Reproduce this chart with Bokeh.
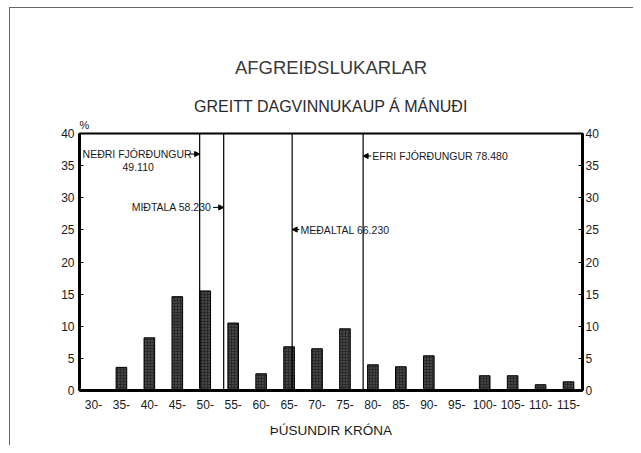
from bokeh.plotting import figure
from bokeh.models import (Range1d, LinearAxis, FixedTicker, Label, Arrow,
                          NormalHead, ColumnDataSource, Title)
from bokeh.embed import file_html
from bokeh.resources import INLINE

# ---- data ----
bin_lower = [30, 35, 40, 45, 50, 55, 60, 65, 70, 75, 80, 85, 90, 95, 100, 105, 110, 115]
tick_labels = [f"{b}-" for b in bin_lower]
percent = [0, 3.6, 8.2, 14.6, 15.5, 10.5, 2.6, 6.8, 6.5, 9.6, 4.0, 3.7, 5.4, 0, 2.3, 2.3, 0.9, 1.35]

stat_names = ["NEÐRI FJÓRÐUNGUR", "MIÐTALA", "MEÐALTAL", "EFRI FJÓRÐUNGUR"]
stat_values = ["49.110", "58.230", "66.230", "78.480"]
# where the marker lines stand on the drawn axis
stat_line_pos = [51.5, 55.8, 68.05, 80.75]

title_text = "AFGREIÐSLUKARLAR"
subtitle_text = "GREITT DAGVINNUKAUP Á MÁNUÐI"
xlabel_text = "ÞÚSUNDIR KRÓNA"
ylabel_text = "%"
y_ticks = [0, 5, 10, 15, 20, 25, 30, 35, 40]

FONT = "Liberation Sans"
INK = "#1a1a1a"

p = figure(width=633, height=445, output_backend="svg", toolbar_location=None,
           x_range=Range1d(30, 120), y_range=Range1d(0, 40), title=None,
           min_border_left=79, min_border_right=51, min_border_top=133,
           min_border_bottom=55)
p.styles = {"background": "linear-gradient(#666,#666) 9px 7px / 1px 100% no-repeat, "
                          "linear-gradient(#666,#666) 9px 7px / 100% 1px no-repeat, white"}
p.border_fill_alpha = 0
p.xgrid.visible = False
p.ygrid.visible = False
p.background_fill_color = "white"
p.outline_line_color = "black"
p.outline_line_width = 2

centers = [b + 2.5 for b in bin_lower]
src = ColumnDataSource(dict(x=centers, top=percent))
p.vbar(x="x", top="top", bottom=0, width=1.9, source=src,
       fill_color="#2a2a2a", line_color="black", line_width=1,
       hatch_pattern="dot", hatch_color="#707070", hatch_scale=3, hatch_weight=1)

# marker lines
p.segment(x0=stat_line_pos, x1=stat_line_pos, y0=[0] * 4, y1=[40] * 4,
          line_color="black", line_width=1.2)

# axes
xa = p.xaxis[0]
xa.ticker = FixedTicker(ticks=centers)
xa.major_label_overrides = {c: t for c, t in zip(centers, tick_labels)}
xa.major_tick_in = 0
xa.major_tick_out = 0
xa.minor_tick_line_color = None
xa.axis_line_width = 3
xa.axis_line_color = "black"
xa.major_label_standoff = 9
xa.major_label_text_font = FONT
xa.major_label_text_font_size = "12px"
xa.major_label_text_color = INK
xa.axis_label = xlabel_text
xa.axis_label_standoff = 11
xa.axis_label_text_font = FONT
xa.axis_label_text_font_size = "13.5px"
xa.axis_label_text_font_style = "normal"
xa.axis_label_text_color = INK

ya = p.yaxis[0]
ya.ticker = FixedTicker(ticks=y_ticks)
ra = LinearAxis(ticker=FixedTicker(ticks=y_ticks))
p.add_layout(ra, "right")
for ax in (ya, ra):
    ax.major_tick_in = 4
    ax.major_tick_out = 0
    ax.minor_tick_line_color = None
    ax.axis_line_width = 3
    ax.axis_line_color = "black"
    ax.major_label_text_font = FONT
    ax.major_label_text_font_size = "12px"
    ax.major_label_text_color = INK
ya.major_label_standoff = 5
ra.major_label_standoff = 3

# titles stacked above the frame (first = closest to frame)
p.add_layout(Title(text=ylabel_text, align="left", text_font=FONT, text_font_size="11px",
                   text_font_style="normal", text_color=INK, standoff=5), "above")
p.add_layout(Title(text=subtitle_text, align="center", text_font=FONT, text_font_size="16px",
                   text_font_style="normal", text_color="#2a2a2a", standoff=0), "above")
p.add_layout(Title(text=title_text, align="center", text_font=FONT, text_font_size="18.5px",
                   text_font_style="normal", text_color="#3a3a3a", standoff=36), "above")

def lab(x, y, text, size, align="left", color=INK):
    p.add_layout(Label(x=x, y=y, text=text, text_font=FONT, text_font_size=size,
                       text_align=align, text_baseline="middle", text_color=color))

# annotations
ann = "10.5px"
lab(30.55, 36.8, stat_names[0], ann, "left")
lab(40.5, 34.8, stat_values[0], ann, "center")
lab(53.6, 28.5, f"{stat_names[1]} {stat_values[1]}", ann, "right")
lab(69.55, 25.05, f"{stat_names[2]} {stat_values[2]}", ann, "left")
lab(82.4, 36.5, f"{stat_names[3]} {stat_values[3]}", ann, "left")

arrow_specs = [
    (49.6, 36.8, stat_line_pos[0], 36.8),
    (53.9, 28.5, stat_line_pos[1], 28.5),
    (69.3, 25.05, stat_line_pos[2], 25.05),
    (82.2, 36.5, stat_line_pos[3], 36.5),
]
for xs, ys, xe, ye in arrow_specs:
    p.add_layout(Arrow(end=NormalHead(size=5, fill_color="black", line_color="black",
                                      line_width=1),
                       x_start=xs, y_start=ys, x_end=xe, y_end=ye,
                       line_color="black", line_width=1))

open("out.html", "w").write(file_html(p, INLINE))
